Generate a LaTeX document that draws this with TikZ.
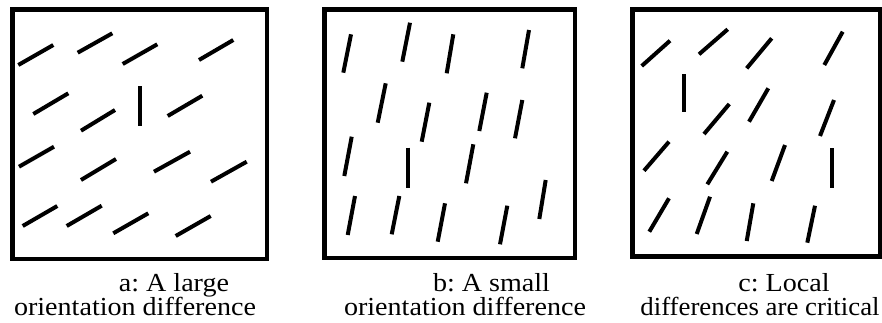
\documentclass[tikz,border=0pt]{standalone}
\usepackage{fontspec}
\setmainfont[FakeStretch=1.08]{Liberation Serif}
\frenchspacing
\begin{document}
\begin{tikzpicture}[x=1pt,y=-1pt,
  frame/.style={draw=black,line width=4.5pt},
  bar/.style={draw=black,line width=4pt,line cap=butt},
  captext/.style={anchor=base,inner sep=0pt,font=\fontsize{26}{28}\selectfont}]
\useasboundingbox (0,0) rectangle (882,322);
% frames
\draw[frame] (12.25,9.25) rectangle (266.75,258.75);
\draw[frame] (324.25,9.25) rectangle (574.75,257.75);
\draw[frame] (632.25,9.25) rectangle (879.75,256.25);
% panel a
\draw[bar] (18.3,65)--(53.3,45);
\draw[bar] (77.7,52.7)--(112.3,33.3);
\draw[bar] (122.7,64)--(157.3,44.3);
\draw[bar] (199,60)--(233.3,40);
\draw[bar] (33.3,114)--(68.3,93.3);
\draw[bar] (140,86)--(140,126);
\draw[bar] (81,130.7)--(115,110);
\draw[bar] (167.7,116)--(202.3,95.7);
\draw[bar] (19,166.7)--(54,146.7);
\draw[bar] (81,180)--(116,159);
\draw[bar] (154,171.7)--(190,151.7);
\draw[bar] (211,181.7)--(246.7,161.7);
\draw[bar] (22.7,226)--(57.3,206);
\draw[bar] (66.7,226)--(101.7,205.7);
\draw[bar] (113.3,233.3)--(148.3,213.3);
\draw[bar] (175.7,236)--(210.7,216);
% panel b
\draw[bar] (351,34.3)--(343.3,72.7);
\draw[bar] (410,22.7)--(402.3,61.7);
\draw[bar] (453.3,34.3)--(446.7,73.3);
\draw[bar] (529,30)--(522.3,68.3);
\draw[bar] (385.7,83.3)--(377.7,122.7);
\draw[bar] (429.3,102.7)--(421.7,141.7);
\draw[bar] (486.7,92.7)--(479.3,131);
\draw[bar] (522.3,100)--(515,138.3);
\draw[bar] (351.7,136.7)--(344.3,176);
\draw[bar] (407.7,147.7)--(407.7,187.7);
\draw[bar] (473.3,144.3)--(466,183.3);
\draw[bar] (545.7,180)--(539.3,219);
\draw[bar] (355,196)--(347.7,235);
\draw[bar] (399.3,196)--(391.7,234.3);
\draw[bar] (445,203.3)--(437.7,241.7);
\draw[bar] (507.3,205.7)--(500,244.3);
% panel c
\draw[bar] (641.7,66)--(670,40.7);
\draw[bar] (699,54.3)--(727.7,29.3);
\draw[bar] (746.7,68.3)--(771.7,38.3);
\draw[bar] (824.3,65)--(842.7,31.7);
\draw[bar] (684,74)--(684,111.7);
\draw[bar] (704,134)--(729.3,104);
\draw[bar] (749,121.7)--(768.3,88.3);
\draw[bar] (820,136)--(834,100);
\draw[bar] (644,170.7)--(669,141.7);
\draw[bar] (707.3,184.3)--(727.3,151.7);
\draw[bar] (771.7,181)--(785,145);
\draw[bar] (831.7,148.3)--(831.7,188.3);
\draw[bar] (649.3,231.7)--(669,198.3);
\draw[bar] (696.7,234)--(710,196.7);
\draw[bar] (746.7,241)--(753.3,203.3);
\draw[bar] (807.3,242.7)--(815,205.7);
% captions
\node[captext] (a1) at (174,291) {a: A large};
\node[captext] (a2) at (135,315) {orientation difference};
\node[captext] (b1) at (491.5,291) {b: A small};
\node[captext] (b2) at (465,315) {orientation difference};
\node[captext] (c1) at (784,291) {c: Local};
\node[captext] (c2) at (760,315) {\scalebox{0.955}[1]{differences are critical}};
\end{tikzpicture}
\end{document}
